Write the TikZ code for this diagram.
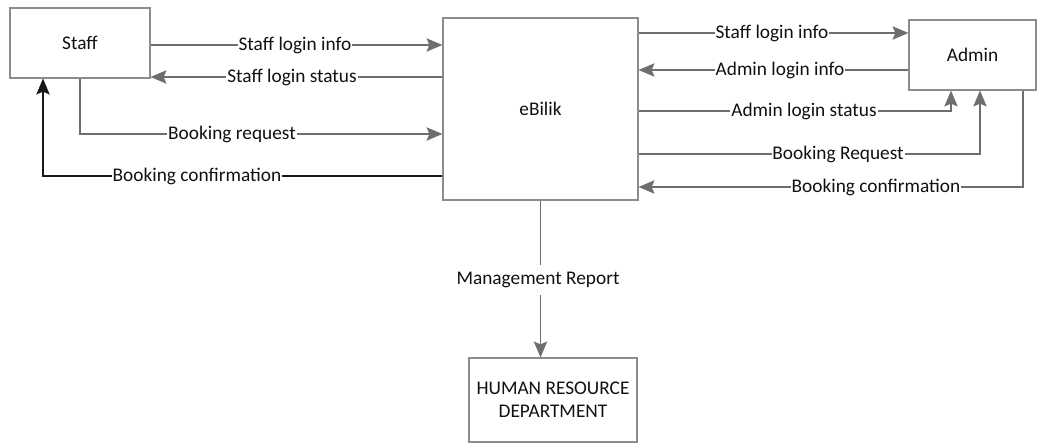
\documentclass[tikz,border=0pt]{standalone}
\usepackage{fontspec}
\setmainfont{Carlito}
\usetikzlibrary{arrows.meta,calc}
\definecolor{linegray}{HTML}{6E6E6E}
\definecolor{boxgray}{HTML}{8C8C8C}
\definecolor{inkdark}{HTML}{111111}
\begin{document}
\begin{tikzpicture}[x=0.02cm,y=-0.02cm,
  font=\fontsize{11}{13}\selectfont, text=inkdark,
  entity/.style={draw=boxgray, line width=0.6pt, fill=white, inner sep=2pt, align=center},
  flow/.style={draw=linegray, line width=1.1pt,
    -{Stealth[length=9pt,width=7.5pt,inset=1.5pt]}},
  darkflow/.style={draw=black!90, line width=1.1pt,
    -{Stealth[length=9pt,width=7.5pt,inset=1.5pt]}},
  lbl/.style={fill=white, inner xsep=0.5pt, inner ysep=1pt}]
\useasboundingbox (0,0) rectangle (1046,445);

% entities and the process
\node[entity, minimum width=2.8cm, minimum height=1.4cm] (staff) at (80,43) {Staff};
\node[entity, minimum width=3.9cm, minimum height=3.64cm] (ebilik) at (540.5,109) {eBilik};
\node[entity, minimum width=2.54cm, minimum height=1.4cm] (admin) at (972.5,55) {Admin};
\node[entity, minimum width=3.36cm, minimum height=1.68cm] (hr) at (553,400)
  {HUMAN RESOURCE\\DEPARTMENT};

% turning points of the bent flows
\coordinate (reqcorner) at (80,134);
\coordinate (confcorner) at (43,176);
\coordinate (statcorner) at (951,111);
\coordinate (breqcorner) at (980,154);
\coordinate (bconfcorner) at (1023,187);

% staff side
\draw[flow] (staff.east |- 0,45) -- (ebilik.west |- 0,45);
\draw[flow] (ebilik.west |- 0,77) -- (staff.east |- 0,77);
\draw[flow] (staff.south -| reqcorner) -- (reqcorner) -- (ebilik.west |- reqcorner);
\draw[darkflow] (ebilik.west |- confcorner) -- (confcorner) -- (staff.south -| confcorner);

% admin side
\draw[flow] (ebilik.east |- 0,33) -- (admin.west |- 0,33);
\draw[flow] (admin.west |- 0,70) -- (ebilik.east |- 0,70);
\draw[flow] (ebilik.east |- statcorner) -- (statcorner) -- (admin.south -| statcorner);
\draw[flow] (ebilik.east |- breqcorner) -- (breqcorner) -- (admin.south -| breqcorner);
\draw[flow] (admin.south -| bconfcorner) -- (bconfcorner) -- (ebilik.east |- bconfcorner);

% report to HR
\draw[flow] (ebilik.south) -- (ebilik.south |- hr.north);

% flow labels
\node[lbl] at (295,45) {Staff login info};
\node[lbl] at (292,77) {Staff login status};
\node[lbl] at (232,134) {Booking request};
\node[lbl] at (197,176) {Booking confirmation};
\node[lbl] at (772,33) {Staff login info};
\node[lbl] at (780,70) {Admin login info};
\node[lbl] at (804,111) {Admin login status};
\node[lbl] at (838,154) {Booking Request};
\node[lbl] at (876,187) {Booking confirmation};
\node[lbl, inner ysep=4pt] at (538,280) {Management Report};
\end{tikzpicture}
\end{document}
